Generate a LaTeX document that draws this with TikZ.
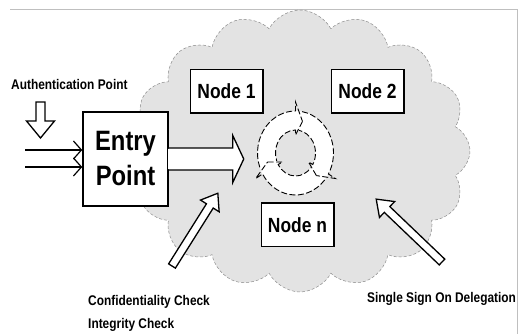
\documentclass[tikz,border=0pt]{standalone}
\usepackage{fontspec}
\setmainfont{Liberation Sans}
\newfontfamily\narrowsf{Liberation Sans}[FakeStretch=0.85]
\usetikzlibrary{shapes.symbols, arrows.meta, positioning, calc}

\begin{document}
\begin{tikzpicture}[
        % styles
        x=1pt, y=1pt,
        block/.style={
            rectangle,
            draw,
            line width=1.5pt,
            fill=white,
            inner sep=0pt,
            minimum width=72.5pt,
            minimum height=43.5pt,
            align=center,
            font=\narrowsf\bfseries\fontsize{20.5}{24}\selectfont
        },
        entrybox/.style={
            block,
            minimum width=85pt,
            minimum height=94pt,
            font=\narrowsf\bfseries\fontsize{28}{35}\selectfont
        },
        cloudbg/.style={
            cloud,
            cloud puffs=16,
            cloud puff arc=125,
            cloud ignores aspect,
            draw=black!45,
            densely dashed,
            line width=0.5pt,
            fill=black!11,
            inner sep=0pt
        },
        label_text/.style={
            anchor=base west,
            inner sep=0pt,
            font=\narrowsf\bfseries\fontsize{14}{17}\selectfont
        },
        inarrow/.style={
            -{Straight Barb[length=8pt, width=18pt]},
            line width=1.2pt
        },
        hollow/.style={
            draw,
            fill=white,
            line width=1.3pt,
            line join=miter
        },
        cycleline/.style={
            draw,
            dash pattern=on 6pt off 2.5pt,
            line width=0.9pt
        },
        pics/hollowarrow/.style n args={4}{code={
            \path[hollow] (0,-#2) -- (#1-#4,-#2) -- (#1-#4,-#3) -- (#1,0)
                -- (#1-#4,#3) -- (#1-#4,#2) -- (0,#2) -- cycle;
        }}
    ]

    \useasboundingbox (0,0) rectangle (518,334);
    \draw[black!25, line width=0.6pt] (10,325) -- (517,325) -- (517,0);

    % --- 1. CLOUD ---
    \node[cloudbg, minimum width=340pt, minimum height=282pt] (cloud) at (300,183) {};

    % --- 2. NODES ---
    \node[entrybox] (entry) at (125.5,175) {Entry\\Point};
    \node[block] (node1) at (226.5,242.5) {Node 1};
    \node[block, right=67pt of node1] (node2) {Node 2};
    \node[block] (noden) at (297.5,109) {Node n};

    % labels
    \node[label_text] (authLabel) at (11,244) {Authentication Point};
    \node[label_text] (confLabel) at (88,29) {Confidentiality Check};
    \node[label_text] (integLabel) at (88,6) {Integrity Check};
    \node[label_text] (ssoLabel) at (367,32) {Single Sign On Delegation};

    % --- 3. ARROWS ---
    \coordinate (in1) at (25,184);
    \coordinate (in2) at (25,167);
    \draw[inarrow] (in1) -- (in1 -| entry.west);
    \draw[inarrow] (in2) -- (in2 -| entry.west);

    % entry -> ring
    \fill[white] ($(entry.east)+(-1,10.3)$) rectangle ($(entry.east)+(64,-10.3)$);
    \draw[hollow] ($(entry.east)+(0,11)$) -- ++(64,0) -- ++(0,12.5) -- ++(11,-23.5)
        -- ++(-11,-23.5) -- ++(0,12.5) -- ++(-64,0);

    \coordinate (authTail) at (40.5,232);
    \coordinate (llTail) at (172,68);
    \coordinate (lrTail) at (442,72);
    \pic[rotate=-90] at (authTail) {hollowarrow={36}{4.5}{14}{17}};
    \pic[rotate=57.8] at (llTail) {hollowarrow={86}{4}{11}{15}};
    \pic[rotate=136.3] at (lrTail) {hollowarrow={91}{4}{11}{15}};

    % --- 4. CYCLE SYMBOL ---
    \coordinate (cyc) at (295.5,181);
    \fill[white, even odd rule] (cyc) ellipse [x radius=38, y radius=42]
        (cyc) ellipse [x radius=20, y radius=23];
    \begin{scope}[shift={(cyc)}]
        \foreach \a in {90,210,330} {
            \draw[cycleline] ({\a+110}:38 and 42)
                arc[start angle=\a+110, end angle=\a, x radius=38, y radius=42]
                -- (\a:46 and 51) -- ({\a-14}:29 and 32.5);
            \draw[cycleline] ({\a-14}:29 and 32.5) -- (\a:15 and 18)
                -- (\a:20 and 23)
                arc[start angle=\a, end angle=\a+110, x radius=20, y radius=23];
        }
    \end{scope}

\end{tikzpicture}
\end{document}
